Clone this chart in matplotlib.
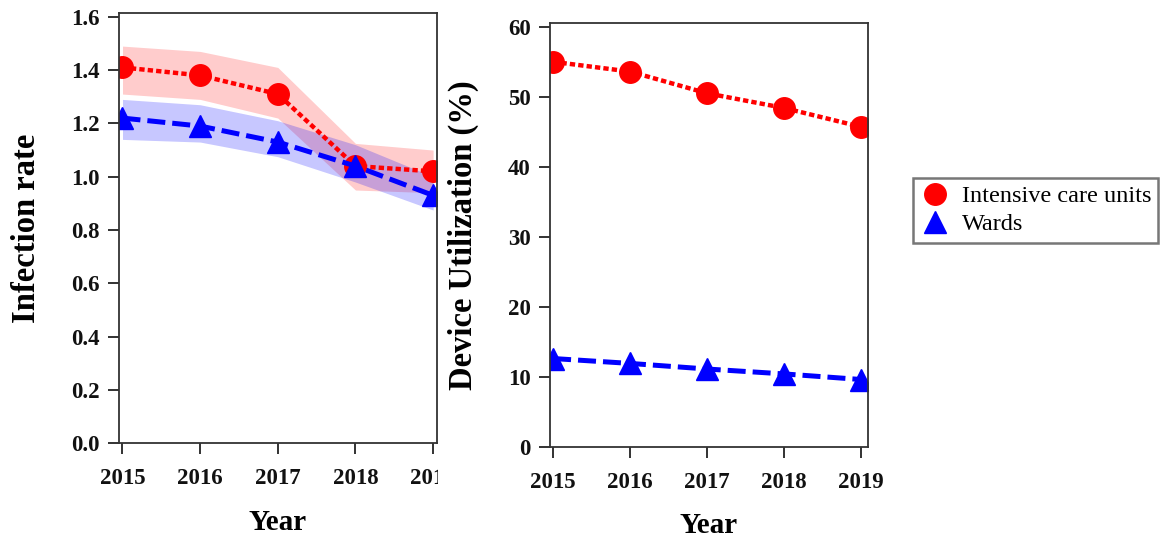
import matplotlib
matplotlib.use("Agg")
import matplotlib.pyplot as plt
from matplotlib.transforms import Bbox, TransformedBbox

years = [2015, 2016, 2017, 2018, 2019]

icu_rate = [1.41, 1.38, 1.31, 1.04, 1.02]
icu_rate_low = [1.31, 1.29, 1.22, 0.95, 0.94]
icu_rate_high = [1.49, 1.47, 1.41, 1.125, 1.10]

ward_rate = [1.22, 1.19, 1.13, 1.04, 0.93]
ward_rate_low = [1.14, 1.13, 1.075, 0.98, 0.875]
ward_rate_high = [1.29, 1.27, 1.21, 1.12, 1.00]

icu_util = [55.0, 53.6, 50.5, 48.4, 45.7]
ward_util = [12.6, 11.9, 11.1, 10.4, 9.6]

left_yticks = [0.0, 0.2, 0.4, 0.6, 0.8, 1.0, 1.2, 1.4, 1.6]
right_yticks = [0, 10, 20, 30, 40, 50, 60]

RED = "#ff0000"
BLUE = "#0000ff"
SERIF = "Liberation Serif"

W, H = 1164, 540
fig = plt.figure(figsize=(W / 100, H / 100), dpi=100)

def frac_axes(x0, y0, x1, y1):
    return fig.add_axes([x0 / W, 1 - y1 / H, (x1 - x0) / W, (y1 - y0) / H])

ax1 = frac_axes(119, 13.3, 437, 443.3)
ax2 = frac_axes(550, 23.3, 868, 446.7)

red_kw = dict(color=RED, lw=3.2, marker="o", ms=15.5, dashes=(1.2, 0.7))
blue_kw = dict(color=BLUE, lw=3.6, marker="^", ms=15.5, dashes=(3.6, 1.4))

# Left panel
ax1.fill_between(years, icu_rate_low, icu_rate_high, color=RED, alpha=0.2, lw=0)
ax1.fill_between(years, ward_rate_low, ward_rate_high, color=BLUE, alpha=0.22, lw=0)
ax1.plot(years, icu_rate, **red_kw)
ax1.plot(years, ward_rate, **blue_kw)
ax1.set_xlim(2014.955, 2019.05)
ax1.set_ylim(0, 1.613)
ax1.set_yticks(left_yticks)
ax1.set_yticklabels([f"{v:.1f}" for v in left_yticks])
ax1.set_ylabel("Infection rate", fontsize=23.5, fontweight="bold", family=SERIF, labelpad=21)

# Right panel
l1, = ax2.plot(years, icu_util, **red_kw)
l2, = ax2.plot(years, ward_util, **blue_kw)
ax2.set_xlim(2014.96, 2019.09)
ax2.set_ylim(0, 60.5)
ax2.set_yticks(right_yticks)
ax2.set_ylabel("Device Utilization (%)", fontsize=23.5, fontweight="bold", family=SERIF, labelpad=21)

for ax in (ax1, ax2):
    ax.set_xticks(years)
    ax.set_xticklabels([str(y) for y in years])
    ax.set_xlabel("Year", fontsize=21, fontweight="bold", family=SERIF, labelpad=14)
    ax.tick_params(axis="both", direction="out", length=8, width=1.3, labelsize=16.5,
                   top=False, right=False, colors="#222222")
    ax.tick_params(axis="x", pad=10)
    ax.tick_params(axis="y", pad=6)
    for lab in ax.get_xticklabels() + ax.get_yticklabels():
        lab.set_fontfamily(SERIF)
        lab.set_fontweight("bold")
        lab.set_color("#111111")
    for s in ax.spines.values():
        s.set_linewidth(1.3)
        s.set_color("#333333")

# Clip the left panel's x tick labels at its right border (as in the reference)
clip = TransformedBbox(Bbox([[0, 0], [438 / W, 1]]), fig.transFigure)
for lab in ax1.get_xticklabels():
    lab.set_clip_box(clip)
    lab.set_clip_on(True)

leg = fig.legend([l1, l2], ["Intensive care units", "Wards"],
                 loc="upper left", bbox_to_anchor=(913 / W, 1 - 178 / H),
                 bbox_transform=fig.transFigure, borderaxespad=0,
                 prop={"family": SERIF, "size": 17.5}, handlelength=1.2,
                 handletextpad=0.5, labelspacing=0.25, borderpad=0.3,
                 fancybox=False, framealpha=1, edgecolor="#777777")
leg.get_frame().set_linewidth(1.8)
for h in leg.legend_handles:
    h.set_linestyle("None")

fig.savefig("out.png", dpi=100)
